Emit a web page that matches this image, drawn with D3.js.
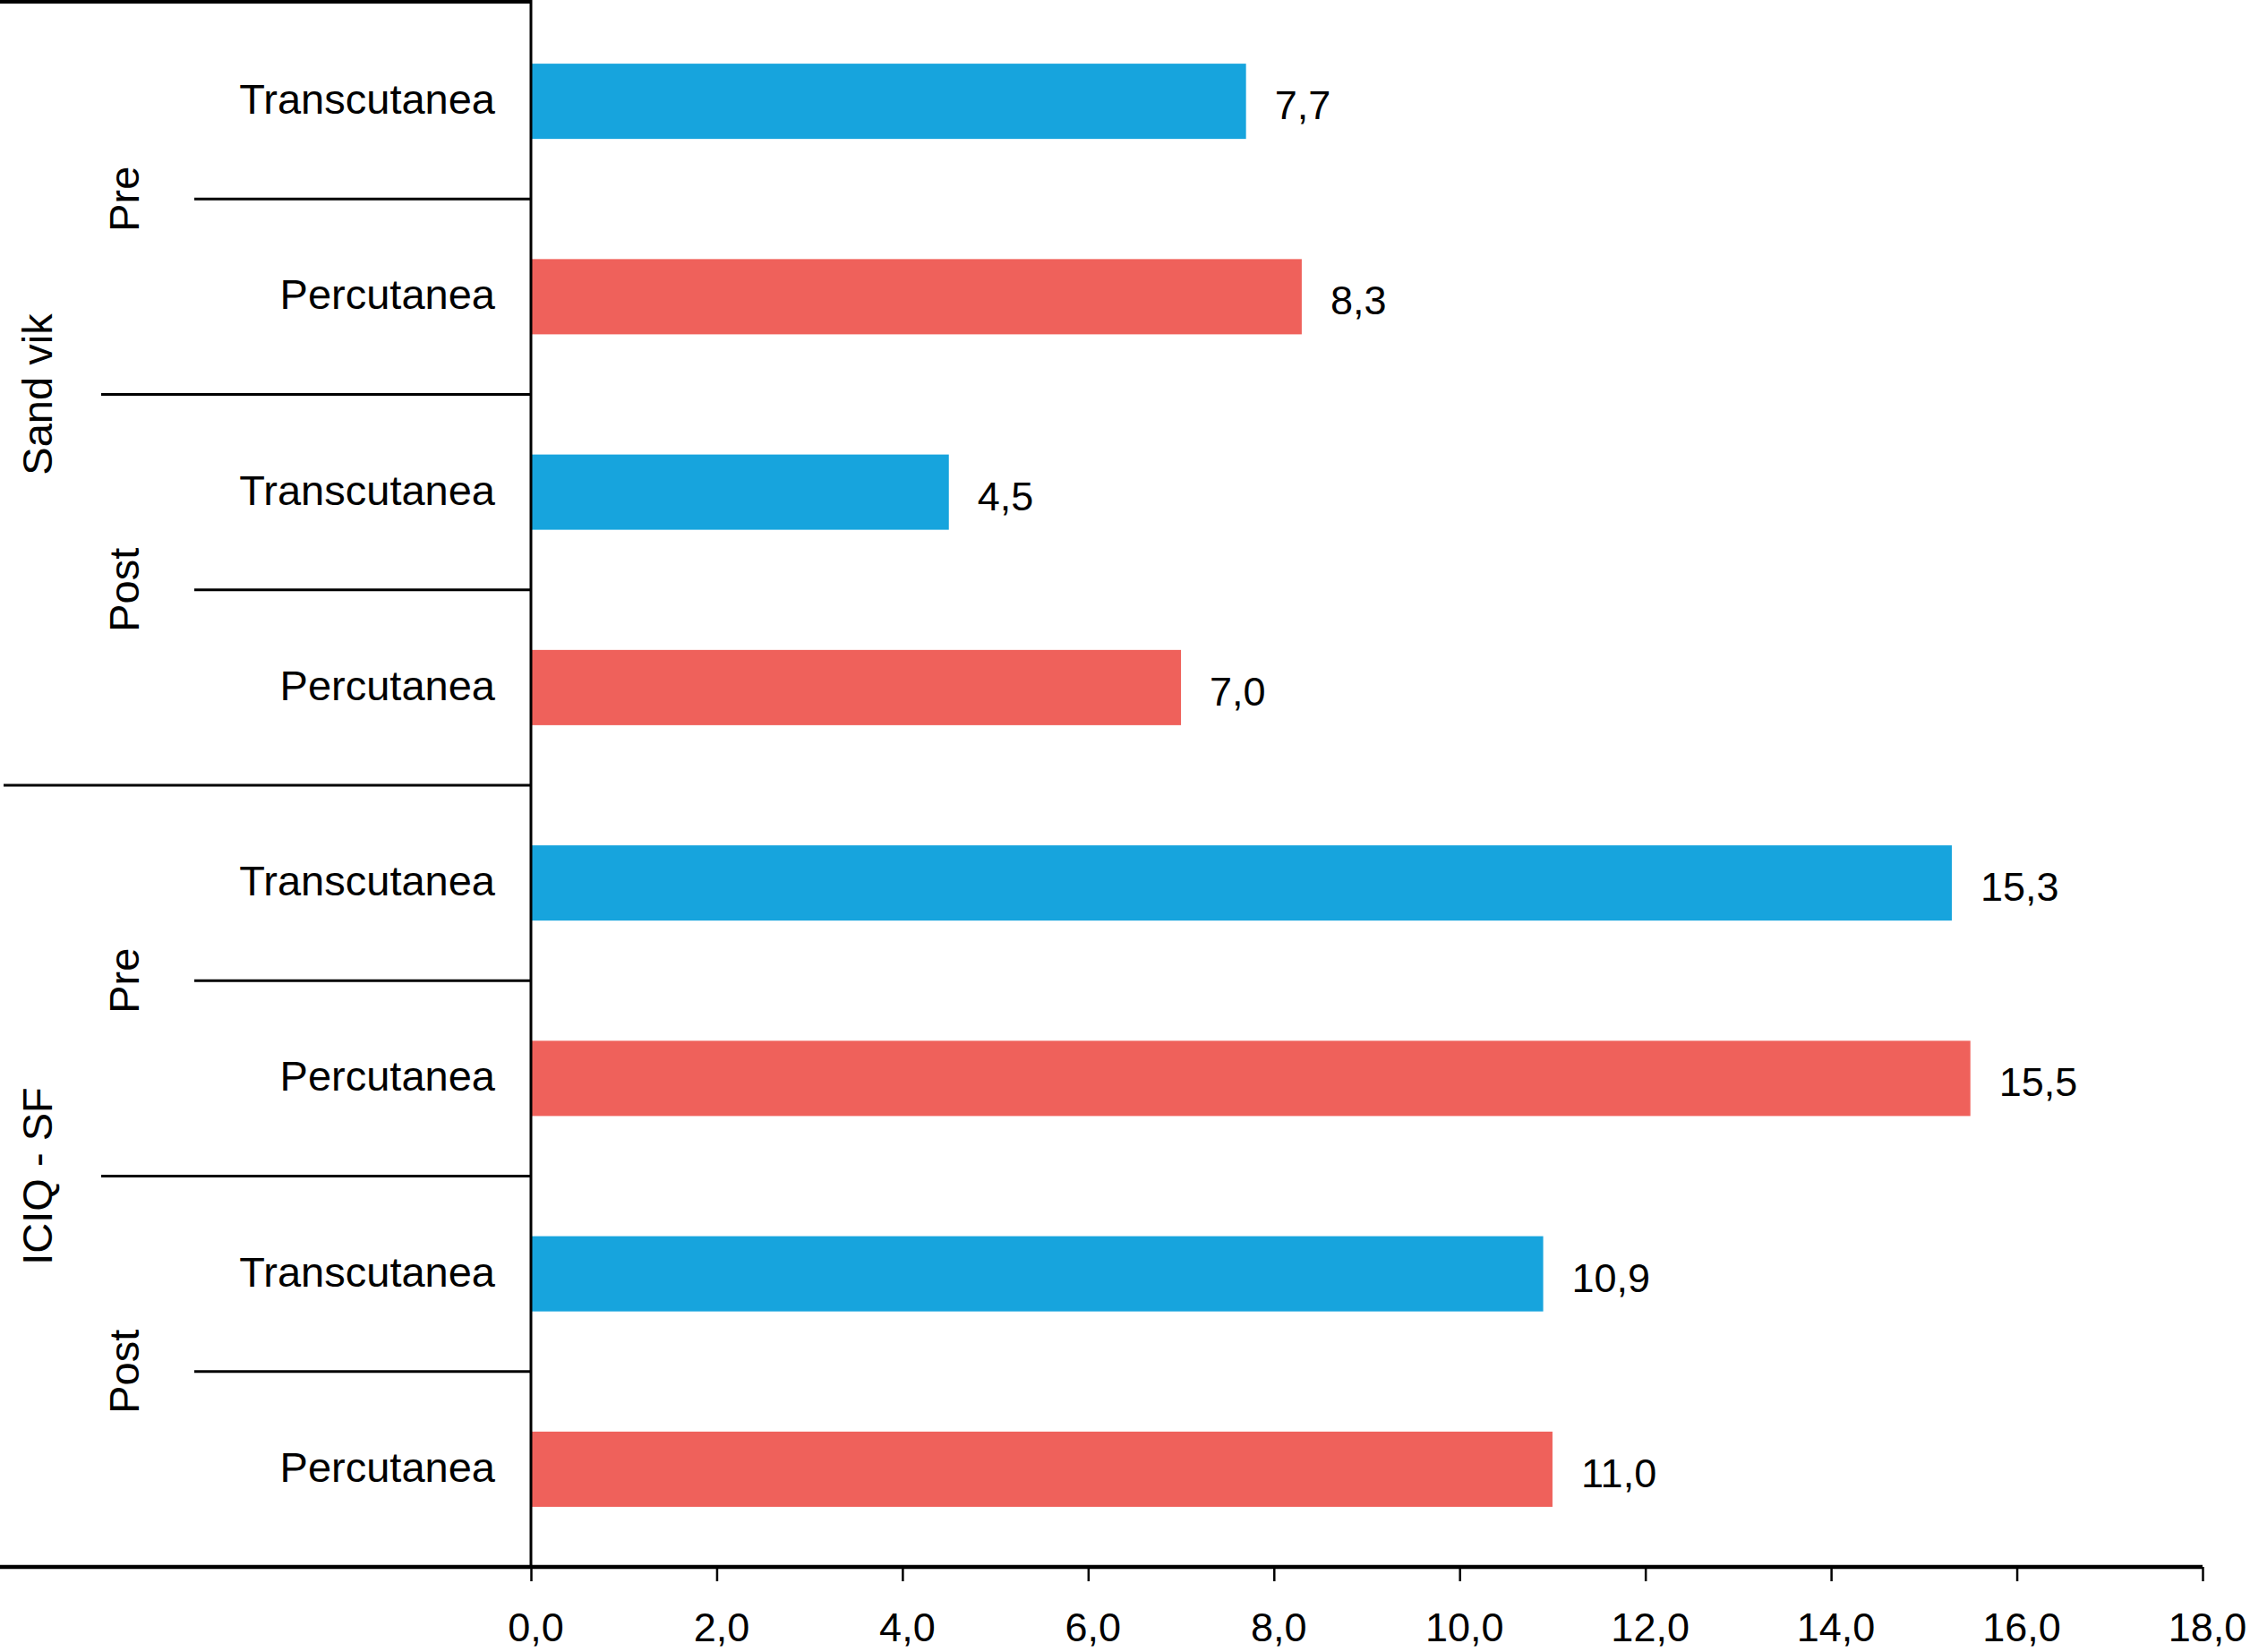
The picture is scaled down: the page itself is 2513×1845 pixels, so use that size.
<!DOCTYPE html>
<html lang="es">
<head>
<meta charset="utf-8">
<style>
  body { margin: 0; background: #fff; }
  svg { display: block; font-family: "Liberation Sans", Arial, Helvetica, sans-serif; }
</style>
</head>
<body>
<div id="chart"></div>
<script src="https://cdn.jsdelivr.net/npm/d3@7"></script>
<script>
// data
const scales = ["Sand vik", "ICIQ - SF"];
const phases = ["Pre", "Post"];
const methods = ["Transcutanea", "Percutanea"];
const values = [7.7, 8.3, 4.5, 7.0, 15.3, 15.5, 10.9, 11.0];
const xTicks = [0, 2, 4, 6, 8, 10, 12, 14, 16, 18];

const colors = { Transcutanea: "#17a4dd", Percutanea: "#ef615b" };

const width = 2513, height = 1845;
const plotLeft = 593, plotRight = 2460, plotTop = 4, plotBottom = 1750;

// one row per scale / phase / method, same order as values
const rows = [];
scales.forEach(s => phases.forEach(p => methods.forEach(m => {
  rows.push({ id: s + "|" + p + "|" + m, scale: s, phase: p, method: m, value: values[rows.length] });
})));

const fmt = d => d3.format(".1f")(d).replace(".", ",");

const svg = d3.select("#chart").append("svg")
  .attr("width", width)
  .attr("height", height);

const x = d3.scaleLinear().domain([0, 18]).range([plotLeft, plotRight]);

const y = d3.scaleBand()
  .domain(rows.map(r => r.id))
  .range([plotTop, plotBottom])
  .paddingInner(0.615)
  .paddingOuter(0.3075);

const gap = (y.step() - y.bandwidth()) / 2;
const slotTop = id => y(id) - gap;
const slotBottom = id => y(id) + y.bandwidth() + gap;

// bars
svg.selectAll("rect.bar")
  .data(rows)
  .enter()
  .append("rect")
  .attr("class", "bar")
  .attr("x", x(0))
  .attr("y", d => y(d.id))
  .attr("width", d => x(d.value) - x(0))
  .attr("height", y.bandwidth())
  .attr("fill", d => colors[d.method]);

// value labels
svg.selectAll("text.val")
  .data(rows)
  .enter()
  .append("text")
  .attr("class", "val")
  .attr("x", d => x(d.value) + 32)
  .attr("y", d => y(d.id) + y.bandwidth() / 2 + 20)
  .attr("font-size", 45)
  .attr("fill", "#000")
  .text(d => fmt(d.value));

// method labels
svg.selectAll("text.method")
  .data(rows)
  .enter()
  .append("text")
  .attr("class", "method")
  .attr("x", plotLeft - 40)
  .attr("y", d => y(d.id) + y.bandwidth() / 2 + 14)
  .attr("text-anchor", "end")
  .attr("font-size", 47)
  .text(d => d.method);

// separator lines between rows, longer between phases and scales
const seps = rows.slice(0, -1).map((r, i) => {
  const next = rows[i + 1];
  let start = 217;
  if (next.scale !== r.scale) start = 4;
  else if (next.phase !== r.phase) start = 113;
  return { y: slotBottom(r.id), start };
});
svg.selectAll("line.sep")
  .data(seps)
  .enter()
  .append("line")
  .attr("class", "sep")
  .attr("x1", d => d.start)
  .attr("x2", plotLeft)
  .attr("y1", d => d.y)
  .attr("y2", d => d.y)
  .attr("stroke", "#000")
  .attr("stroke-width", 3);

// phase labels (rotated)
const phaseGroups = d3.groups(rows, r => r.scale + "|" + r.phase).map(([k, g]) => ({
  label: g[0].phase,
  cy: (slotTop(g[0].id) + slotBottom(g[g.length - 1].id)) / 2
}));
svg.selectAll("text.phase")
  .data(phaseGroups)
  .enter()
  .append("text")
  .attr("class", "phase")
  .attr("transform", d => `translate(155,${d.cy}) rotate(-90)`)
  .attr("text-anchor", "middle")
  .attr("font-size", 47)
  .text(d => d.label);

// scale labels (rotated)
const scaleGroups = d3.groups(rows, r => r.scale).map(([k, g]) => ({
  label: k,
  cy: (slotTop(g[0].id) + slotBottom(g[g.length - 1].id)) / 2
}));
svg.selectAll("text.scale")
  .data(scaleGroups)
  .enter()
  .append("text")
  .attr("class", "scale")
  .attr("transform", d => `translate(58,${d.cy}) rotate(-90)`)
  .attr("text-anchor", "middle")
  .attr("font-size", 47)
  .text(d => d.label);

// top border line
svg.append("line")
  .attr("x1", 0).attr("x2", plotLeft)
  .attr("y1", 2).attr("y2", 2)
  .attr("stroke", "#000")
  .attr("stroke-width", 4);

// vertical axis
svg.append("line")
  .attr("x1", plotLeft).attr("x2", plotLeft)
  .attr("y1", 0).attr("y2", plotBottom)
  .attr("stroke", "#000")
  .attr("stroke-width", 3);

// x axis
const xAxis = svg.append("g")
  .attr("transform", `translate(0,${plotBottom})`)
  .call(d3.axisBottom(x)
    .tickValues(xTicks)
    .tickFormat(fmt)
    .tickSize(16)
    .tickSizeOuter(0)
    .tickPadding(35));
xAxis.select(".domain").remove();
xAxis.selectAll(".tick line").attr("stroke", "#000").attr("stroke-width", 2.5);
xAxis.selectAll(".tick text")
  .attr("font-family", "'Liberation Sans', Arial, sans-serif")
  .attr("font-size", 45)
  .attr("fill", "#000")
  .attr("dx", 5);

svg.append("line")
  .attr("x1", 0).attr("x2", plotRight)
  .attr("y1", plotBottom).attr("y2", plotBottom)
  .attr("stroke", "#000")
  .attr("stroke-width", 4.5);
</script>
</body>
</html>
